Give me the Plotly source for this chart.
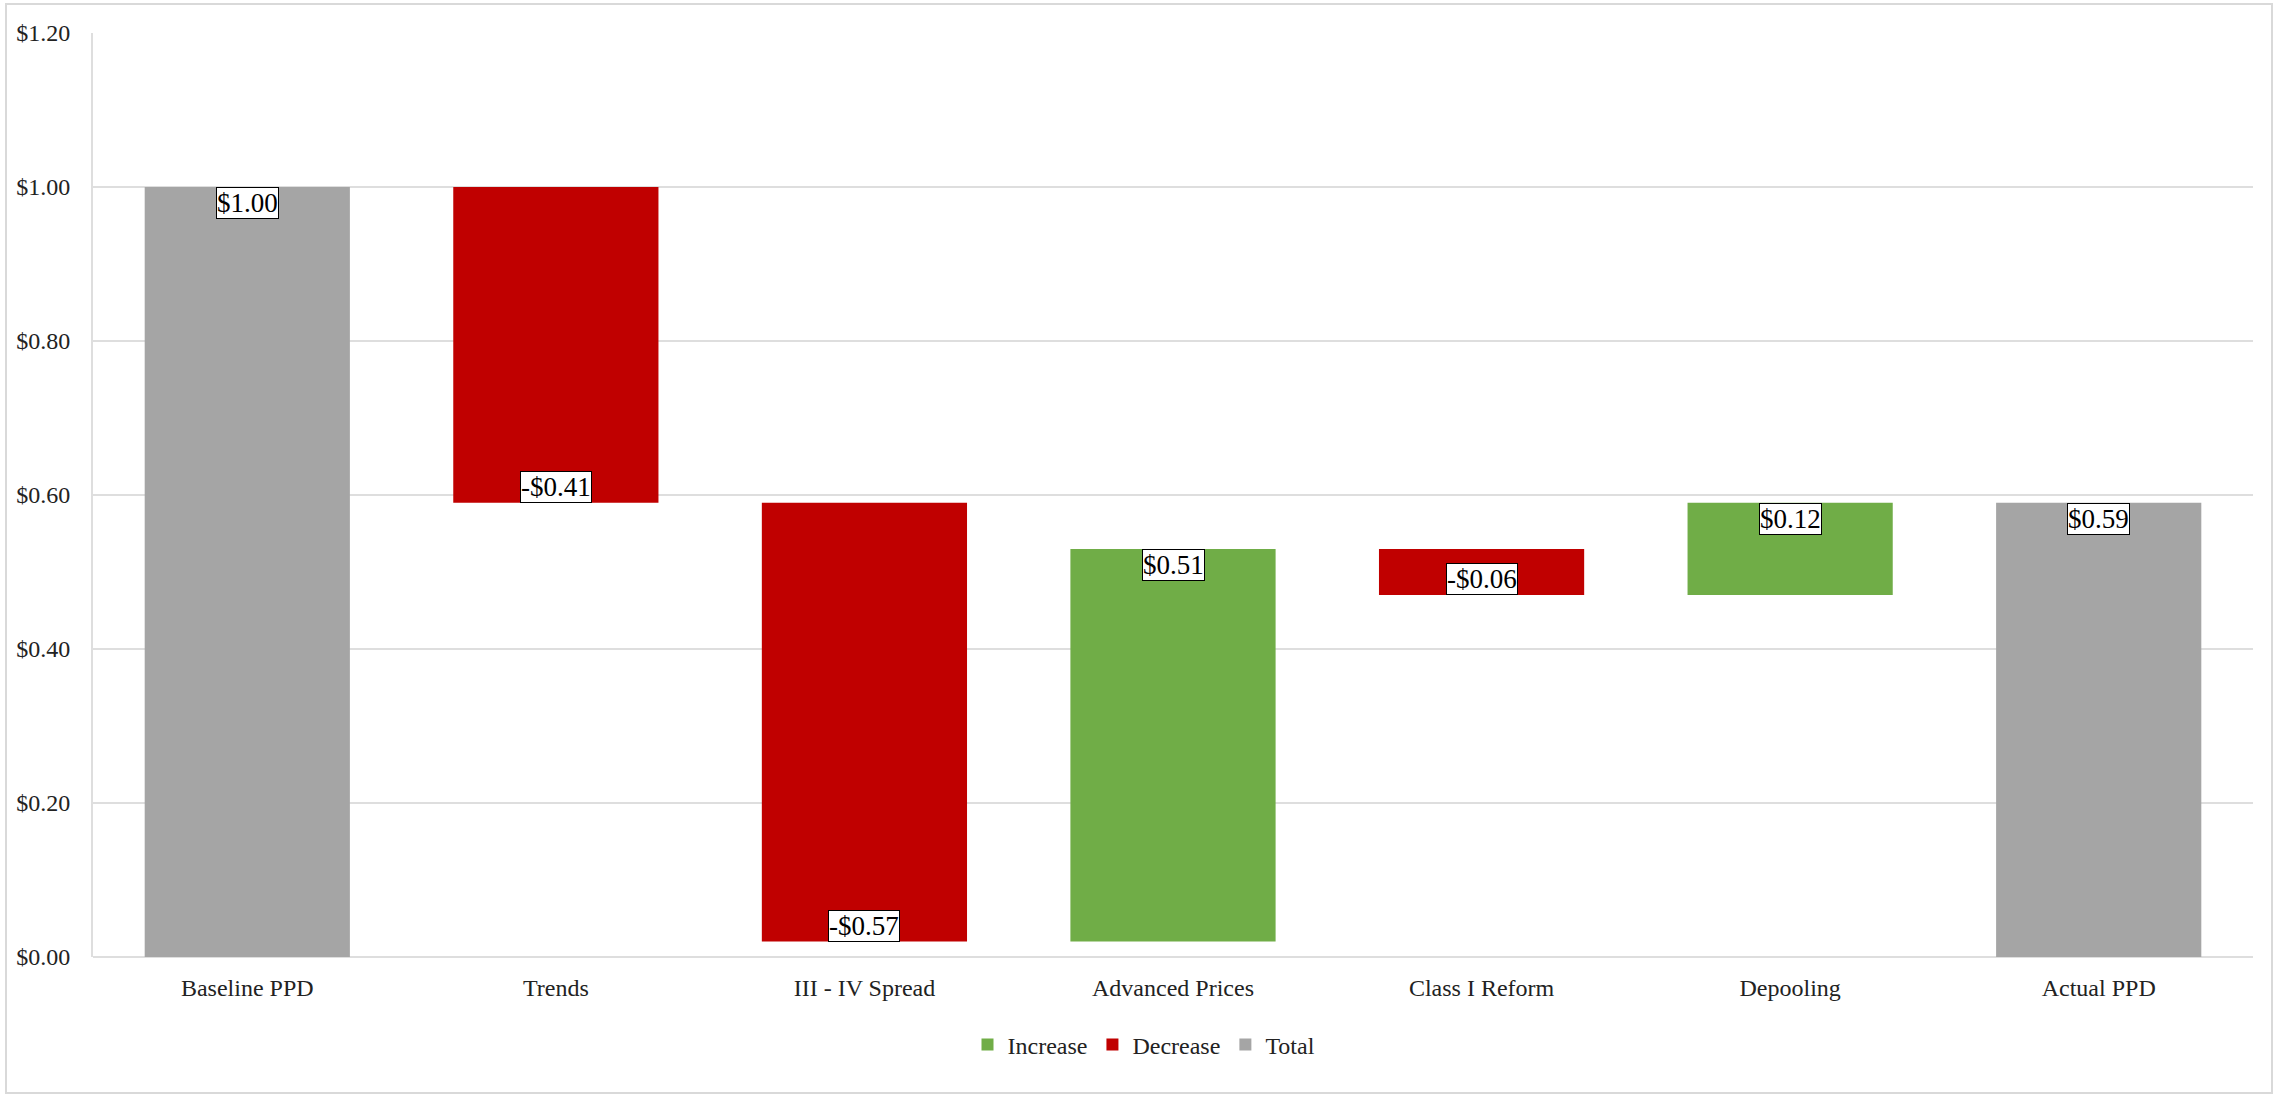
import plotly.graph_objects as go

categories = ["Baseline PPD", "Trends", "III - IV Spread", "Advanced Prices",
              "Class I Reform", "Depooling", "Actual PPD"]
changes = [1.00, -0.41, -0.57, 0.51, -0.06, 0.12, 0.59]
kinds = ["total", "delta", "delta", "delta", "delta", "delta", "total"]
y_ticks = [0, 0.2, 0.4, 0.6, 0.8, 1.0, 1.2]
y_tick_labels = ["$0.00", "$0.20", "$0.40", "$0.60", "$0.80", "$1.00", "$1.20"]

GREEN = "#70AD47"
RED = "#C00000"
GREY = "#A5A5A5"
FONT = "Liberation Serif, Times New Roman, serif"

# compute bases / ends
bases, ends = [], []
running = 0.0
for v, k in zip(changes, kinds):
    if k == "total":
        bases.append(0.0)
        running = v
        ends.append(v)
    else:
        bases.append(running)
        running = running + v
        ends.append(running)

inc_y, inc_b, dec_y, dec_b, tot_y, tot_b = [], [], [], [], [], []
for v, k, b in zip(changes, kinds, bases):
    if k == "total":
        tot_y.append(v); tot_b.append(0)
        inc_y.append(None); inc_b.append(0)
        dec_y.append(None); dec_b.append(0)
    elif v >= 0:
        inc_y.append(v); inc_b.append(b)
        dec_y.append(None); dec_b.append(0)
        tot_y.append(None); tot_b.append(0)
    else:
        dec_y.append(v); dec_b.append(b)
        inc_y.append(None); inc_b.append(0)
        tot_y.append(None); tot_b.append(0)

fig = go.Figure()
fig.add_trace(go.Bar(name="Increase", x=categories, y=inc_y, base=inc_b,
                     marker=dict(color=GREEN, line=dict(width=0)), hoverinfo="skip"))
fig.add_trace(go.Bar(name="Decrease", x=categories, y=dec_y, base=dec_b,
                     marker=dict(color=RED, line=dict(width=0)), hoverinfo="skip"))
fig.add_trace(go.Bar(name="Total", x=categories, y=tot_y, base=tot_b,
                     marker=dict(color=GREY, line=dict(width=0)), hoverinfo="skip"))

for c, v, k, e in zip(categories, changes, kinds, ends):
    txt = ("-$%.2f" % abs(v)) if v < 0 else ("$%.2f" % v)
    fig.add_annotation(x=c, y=e, xref="x", yref="y", text=txt, showarrow=False,
                       yanchor="bottom" if (k == "delta" and v < 0) else "top",
                       font=dict(family=FONT, size=27, color="black"),
                       bgcolor="white", bordercolor="black", borderwidth=1, borderpad=0)

L, R, T, B = 93, 27, 33, 139
W, H = 2280, 1096
pw, ph = W - L - R, H - T - B
fig.add_shape(type="rect", xref="paper", yref="paper",
              x0=(6 - L) / pw, x1=(2272 - L) / pw,
              y0=(H - B - 1093) / ph, y1=(H - B - 4) / ph,
              line=dict(color="#D9D9D9", width=2), fillcolor="rgba(0,0,0,0)", layer="below")

fig.update_layout(
    width=W, height=H,
    margin=dict(l=L, r=R, t=T, b=B),
    paper_bgcolor="white", plot_bgcolor="white",
    barmode="overlay", bargap=0.335,
    font=dict(family=FONT, size=24, color="#222222"),
    legend=dict(orientation="h", x=(1144 - L) / pw, xanchor="center", y=(H - B - 1045) / ph,
                yanchor="middle", font=dict(family=FONT, size=24, color="#222222"),
                itemsizing="constant"),
    xaxis=dict(showgrid=False, showline=False, ticks="", tickfont=dict(size=24),
               ticklabelstandoff=14, fixedrange=True),
    yaxis=dict(range=[0, 1.2], tickvals=y_ticks, ticktext=y_tick_labels,
               showgrid=True, gridcolor="#DEDEDE", gridwidth=2,
               showline=True, linecolor="#DEDEDE", linewidth=2,
               zeroline=True, zerolinecolor="#DEDEDE", zerolinewidth=2,
               ticks="", tickfont=dict(size=24), ticklabelstandoff=16, fixedrange=True),
)

fig.write_html("out.html", config={"displayModeBar": False})
with open("out.html", "r", encoding="utf-8") as f:
    html = f.read()
html = html.replace("<body>", '<body style="margin:0;overflow:hidden">', 1)
with open("out.html", "w", encoding="utf-8") as f:
    f.write(html)
